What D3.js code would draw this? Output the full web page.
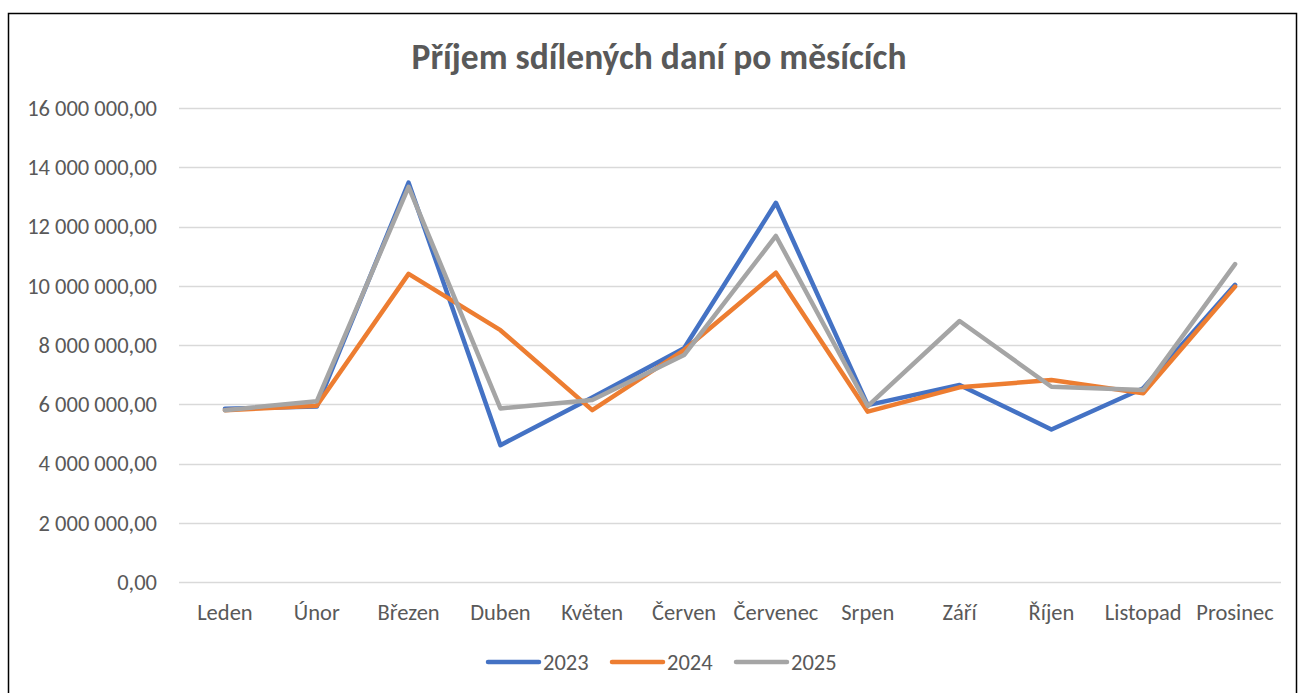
<!DOCTYPE html>
<html>
<head>
<meta charset="utf-8">
<script src="https://cdn.jsdelivr.net/npm/d3@7"></script>
<style>
  body { margin: 0; background: #fff; }
  svg text { font-family: Carlito, Calibri, "Open Sans", "Noto Sans", sans-serif; fill: #595959; }
</style>
</head>
<body>
<div id="chart"></div>
<script>
// data
var months = ["Leden", "Únor", "Březen", "Duben", "Květen", "Červen", "Červenec", "Srpen", "Září", "Říjen", "Listopad", "Prosinec"];
var years = ["2023", "2024", "2025"];
var v2023 = [5850000, 5920000, 13480000, 4620000, 6230000, 7890000, 12800000, 5970000, 6650000, 5150000, 6540000, 10030000];
var v2024 = [5800000, 5950000, 10400000, 8500000, 5800000, 7830000, 10440000, 5750000, 6570000, 6820000, 6370000, 9970000];
var v2025 = [5800000, 6100000, 13340000, 5860000, 6140000, 7660000, 11680000, 5940000, 8810000, 6590000, 6480000, 10730000];
var yTicks = [0, 2000000, 4000000, 6000000, 8000000, 10000000, 12000000, 14000000, 16000000];
var colors = ["#4472C4", "#ED7D31", "#A5A5A5"];

var width = 1299, height = 693;
var series = [v2023, v2024, v2025];

var svg = d3.select("#chart").append("svg")
    .attr("width", width).attr("height", height);

// chart frame
svg.append("rect")
    .attr("x", 8.5).attr("y", 13.5)
    .attr("width", 1288).attr("height", 700)
    .attr("fill", "#fff").attr("stroke", "#000").attr("stroke-width", 1.5);

var x = d3.scalePoint().domain(months).range([179, 1281]).padding(0.5);
var y = d3.scaleLinear().domain([0, 16000000]).range([582, 108]);

// number format like "16 000 000,00"
var fmt = function(v) {
    var s = d3.format(",.2f")(v);
    return s.replace(/,/g, " ").replace(".", ",");
};

// gridlines
svg.append("g").selectAll("line")
    .data(yTicks)
    .enter().append("line")
    .attr("x1", 179).attr("x2", 1281)
    .attr("y1", d => Math.round(y(d)) + 0.5).attr("y2", d => Math.round(y(d)) + 0.5)
    .attr("stroke", "#D9D9D9").attr("stroke-width", 1.3);

// y labels
svg.append("g").selectAll("text")
    .data(yTicks)
    .enter().append("text")
    .attr("x", 157).attr("y", d => y(d))
    .attr("dy", "0.35em")
    .attr("text-anchor", "end")
    .style("font-size", "22.5px")
    .text(fmt);

// x labels
svg.append("g").selectAll("text")
    .data(months)
    .enter().append("text")
    .attr("x", d => x(d)).attr("y", 612)
    .attr("dy", "0.35em")
    .attr("text-anchor", "middle")
    .style("font-size", "22.5px")
    .text(d => d);

// lines
var line = d3.line()
    .x((d, i) => x(months[i]))
    .y(d => y(d));

svg.append("g").selectAll("path")
    .data(series)
    .enter().append("path")
    .attr("d", line)
    .attr("fill", "none")
    .attr("stroke", (d, i) => colors[i])
    .attr("stroke-width", 4.5)
    .attr("stroke-linejoin", "round")
    .attr("stroke-linecap", "round");

// title
svg.append("text")
    .attr("x", 659).attr("y", 57)
    .attr("dy", "0.35em")
    .attr("text-anchor", "middle")
    .style("font-size", "35.5px")
    .style("font-weight", "bold")
    .text("Příjem sdílených daní po měsících");

// legend
var legend = svg.append("g").selectAll("g")
    .data(years)
    .enter().append("g")
    .attr("transform", (d, i) => "translate(" + (488 + i * 124) + ",662)");

legend.append("line")
    .attr("x1", 0).attr("x2", 51)
    .attr("stroke", (d, i) => colors[i])
    .attr("stroke-width", 4.5)
    .attr("stroke-linecap", "round");

legend.append("text")
    .attr("x", 55).attr("dy", "0.35em")
    .style("font-size", "22.5px")
    .text(d => d);
</script>
</body>
</html>
